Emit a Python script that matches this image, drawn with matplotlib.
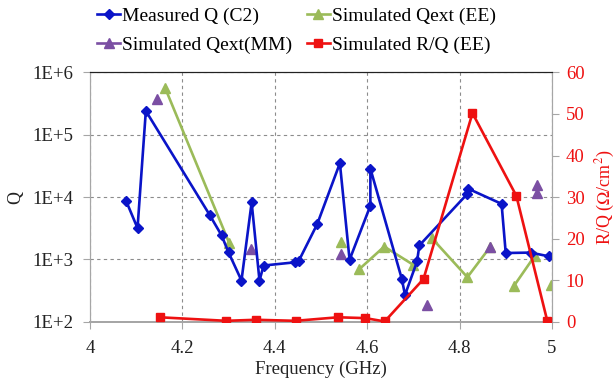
import numpy as np
import matplotlib
matplotlib.use("Agg")
import matplotlib.pyplot as plt
from matplotlib.lines import Line2D

plt.rcParams['font.family'] = ['Liberation Serif', 'DejaVu Serif']
plt.rcParams['mathtext.fontset'] = 'stix'

# measured Q (C2)
meas_f = [4.078, 4.103, 4.121, 4.259, 4.285, 4.300, 4.328, 4.350, 4.367, 4.376,
          4.443, 4.452, 4.492, 4.541, 4.562, 4.607, 4.607, 4.675, 4.682, 4.708,
          4.713, 4.817, 4.819, 4.891, 4.900, 4.954, 4.994]
meas_q = [8800, 3180, 241000, 5200, 2430, 1300, 460, 8200, 460, 800,
          900, 950, 3700, 35000, 990, 7300, 28700, 490, 270, 930,
          1680, 11300, 13600, 7800, 1270, 1290, 1120]

# simulated Qext (EE), nan = gap in the series
ee_f = [4.163, 4.301, np.nan, 4.544, np.nan, 4.583, 4.637, 4.700, np.nan, 4.740,
        4.817, 4.866, np.nan, 4.917, 4.963, np.nan, 4.997]
ee_q = [558000, 1870, np.nan, 1900, np.nan, 700, 1610, 820, np.nan, 2200,
        520, 1580, np.nan, 370, 1150, np.nan, 390]

# simulated Qext (MM)
mm_f = [4.146, 4.348, 4.544, 4.729, 4.866, 4.967, 4.967]
mm_q = [372000, 1480, 1230, 188, 1580, 15700, 11600]

# simulated R/Q (EE)
rq_f = [4.151, 4.295, 4.359, 4.445, 4.537, 4.596, 4.638, 4.722, 4.828, 4.923, 4.990]
rq = [1.1, 0.25, 0.5, 0.25, 1.1, 0.9, 0.1, 10.3, 50.2, 30.3, 0.2]

blue = '#0a14c8'
green = '#9bbb59'
purple = '#7b4fa3'
red = '#ee1111'

fig = plt.figure(figsize=(6.16, 3.85), dpi=100)
ax = fig.add_axes([0.146, 0.164, 0.75, 0.648])
ax2 = ax.twinx()

ax.plot(meas_f, meas_q, color=blue, lw=1.9, marker='D', ms=5.5, zorder=3)
ax.plot(ee_f, ee_q, color=green, lw=1.9, marker='^', ms=7, zorder=2)
ax.plot(mm_f, mm_q, color=purple, ls='none', marker='^', ms=6.5, zorder=2)
ax2.plot(rq_f, rq, color=red, lw=1.9, marker='s', ms=6, zorder=3)

ax.set_yscale('log')
ax.set_ylim(100, 1e6)
ax.set_xlim(4, 5)
ax.set_yticks([1e2, 1e3, 1e4, 1e5, 1e6])
ax.set_yticklabels(['1E+2', '1E+3', '1E+4', '1E+5', '1E+6'])
ax.yaxis.set_minor_locator(matplotlib.ticker.NullLocator())
ax.set_xticks([4, 4.2, 4.4, 4.6, 4.8, 5])
ax.set_xticklabels(['4', '4.2', '4.4', '4.6', '4.8', '5'])
ax.grid(True, ls=(0, (3, 3)), color='#8c8c8c', lw=0.8)
ax.set_axisbelow(True)

ax2.set_ylim(0, 60)
ax2.set_yticks(range(0, 61, 10))

for a in (ax, ax2):
    for s in ('left', 'right', 'bottom'):
        a.spines[s].set_color('#a6a6a6')
    a.spines['top'].set_color('#222222')
    a.spines['bottom'].set_linewidth(1.4)
    a.tick_params(colors='#a6a6a6', labelsize=13.5, length=5)

ax.tick_params(axis='both', labelcolor='#222222')
ax.tick_params(axis='y', pad=7)
ax.tick_params(axis='x', pad=8)
ax2.tick_params(axis='y', labelcolor=red, pad=5)

ax.set_xlabel('Frequency (GHz)', fontsize=13.5, color='#222222', labelpad=3)
ax.set_ylabel('Q', fontsize=13, color='#222222', labelpad=6)
ax2.set_ylabel('R/Q ($\\Omega$/cm$^2$)', fontsize=13, color=red, labelpad=7)

handles = [
    Line2D([], [], color=blue, lw=1.9, marker='D', ms=5.5),
    Line2D([], [], color=purple, lw=1.9, marker='^', ms=6.5),
    Line2D([], [], color=green, lw=1.9, marker='^', ms=6.5),
    Line2D([], [], color=red, lw=1.9, marker='s', ms=5.5),
]
labels = ['Measured Q (C2)', 'Simulated Qext(MM)', 'Simulated Qext (EE)', 'Simulated R/Q (EE)']
fig.legend(handles, labels, ncol=2, loc='upper left', bbox_to_anchor=(0.158, 0.982),
           frameon=False, fontsize=14, handlelength=1.15, handletextpad=0.1,
           columnspacing=0.8, labelspacing=0.62, borderpad=0, borderaxespad=0)

fig.savefig('out.png', dpi=100)
